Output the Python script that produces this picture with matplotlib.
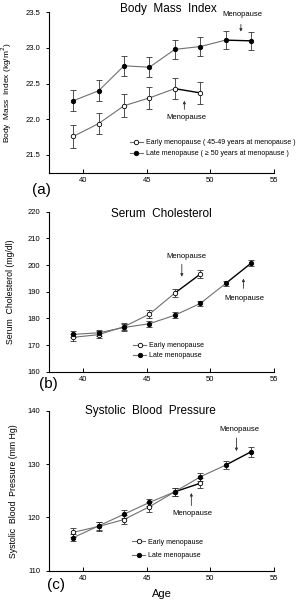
import numpy as np
import matplotlib
matplotlib.use("Agg")
import matplotlib.pyplot as plt

plt.rcParams['font.family'] = ['Liberation Sans', 'DejaVu Sans']

ages_early = [39.2, 41.2, 43.2, 45.2, 47.2, 49.2]
ages_late = [39.2, 41.2, 43.2, 45.2, 47.2, 49.2, 51.2, 53.2]

# body mass index
bmi_early = [21.76, 21.94, 22.19, 22.30, 22.43, 22.37]
bmi_early_err = [0.16, 0.15, 0.16, 0.15, 0.15, 0.15]
bmi_late = [22.26, 22.40, 22.75, 22.73, 22.98, 23.02, 23.11, 23.10]
bmi_late_err = [0.15, 0.15, 0.14, 0.14, 0.13, 0.13, 0.13, 0.13]

# serum cholesterol
chol_early = [172.9, 173.9, 176.9, 181.6, 189.5, 196.6]
chol_early_err = [1.2, 1.2, 1.3, 1.5, 1.5, 1.6]
chol_late = [174.0, 174.6, 176.6, 178.0, 181.2, 185.6, 193.1, 200.7]
chol_late_err = [1.1, 1.1, 1.2, 1.2, 1.1, 1.1, 1.1, 1.2]

# systolic blood pressure
sbp_early = [117.2, 118.3, 119.6, 122.0, 124.8, 126.4]
sbp_early_err = [0.9, 0.8, 0.8, 0.9, 0.8, 0.9]
sbp_late = [116.2, 118.4, 120.6, 122.8, 124.8, 127.6, 129.8, 132.3]
sbp_late_err = [0.7, 0.7, 0.7, 0.7, 0.7, 0.8, 0.8, 0.9]

GREY = "#707070"


def draw_series(ax, x, y, err, filled, label, split):
    # grey line before menopause, black line after
    ax.plot(x[:split + 1], y[:split + 1], color=GREY, lw=0.8, zorder=2)
    ax.plot(x[split:], y[split:], color="black", lw=1.0, zorder=2)
    ax.errorbar(x, y, yerr=err, fmt="none", ecolor="#333333", elinewidth=0.6,
                capsize=2.2, capthick=0.6, zorder=3)
    ax.plot(x, y, "o", ms=3.2, mfc="black" if filled else "white", mec="black",
            mew=0.6, zorder=4)
    # legend handle
    ax.plot([], [], "-o", color=GREY, lw=0.8, ms=3.2,
            mfc="black" if filled else "white", mec="black", mew=0.6, label=label)


def style(ax, ylim, yticks, yfmt):
    ax.set_xlim(37.3, 55)
    ax.set_ylim(*ylim)
    ax.set_xticks([40, 45, 50, 55])
    ax.set_yticks(yticks)
    ax.set_yticklabels([yfmt.format(v) for v in yticks])
    ax.spines['top'].set_visible(False)
    ax.spines['right'].set_visible(False)
    ax.spines['left'].set_linewidth(0.8)
    ax.spines['bottom'].set_linewidth(0.8)
    ax.tick_params(axis='x', direction='in', length=3, width=0.7, labelsize=5.5, pad=3)
    ax.tick_params(axis='y', direction='out', length=2.5, width=0.7, labelsize=5.5, pad=4)


def menopause(ax, xt, yt, xa, ya0, ya1):
    ax.text(xt, yt, "Menopause", fontsize=5.5, ha="center", va="center")
    ax.annotate("", xy=(xa, ya1), xytext=(xa, ya0),
                arrowprops=dict(arrowstyle="-|>", lw=0.6, color="#333333",
                                mutation_scale=4))


fig = plt.figure(figsize=(3.03, 6.0), dpi=100)
axa = fig.add_axes([0.162, 0.712, 0.742, 0.2675])
axb = fig.add_axes([0.162, 0.3805, 0.742, 0.2665])
axc = fig.add_axes([0.162, 0.0488, 0.742, 0.2667])

# (a) body mass index
draw_series(axa, ages_early, bmi_early, bmi_early_err, False,
            "Early menopause ( 45-49 years at menopause )", 4)
draw_series(axa, ages_late, bmi_late, bmi_late_err, True,
            "Late menopause ( \u2265 50 years at menopause )", 6)
style(axa, (21.25, 23.5), [21.5, 22.0, 22.5, 23.0, 23.5], "{:.1f}")
axa.set_ylabel("Body  Mass  Index (kg/m$^2$)", fontsize=6)
axa.yaxis.set_label_coords(-0.155, 0.5)
axa.text(0.53, 1.02, "Body  Mass  Index", transform=axa.transAxes, fontsize=8.5,
         ha="center", va="center")
menopause(axa, 52.5, 23.47, 52.4, 23.37, 23.19)
menopause(axa, 48.1, 22.02, 47.95, 22.10, 22.30)
axa.legend(loc="upper left", bbox_to_anchor=(0.36, 0.21), fontsize=5, frameon=False,
           handlelength=1.8, handletextpad=0.5, labelspacing=0.6, borderpad=0,
           borderaxespad=0)
axa.text(-0.075, -0.108, "(a)", transform=axa.transAxes, fontsize=11, va="center")

# (b) serum cholesterol
draw_series(axb, ages_early, chol_early, chol_early_err, False, "Early menopause", 4)
draw_series(axb, ages_late, chol_late, chol_late_err, True, "Late menopause", 6)
style(axb, (160, 220), [160, 170, 180, 190, 200, 210, 220], "{:d}")
axb.set_ylabel("Serum  Cholesterol (mg/dl)", fontsize=6.3)
axb.yaxis.set_label_coords(-0.151, 0.5)
axb.text(0.5, 0.986, "Serum  Cholesterol", transform=axb.transAxes, fontsize=8.5,
         ha="center", va="center")
menopause(axb, 48.1, 203.1, 47.75, 201.3, 194.6)
menopause(axb, 52.7, 187.5, 52.6, 190.2, 196.0)
axb.legend(loc="upper left", bbox_to_anchor=(0.375, 0.185), fontsize=5, frameon=False,
           handlelength=1.8, handletextpad=0.5, labelspacing=0.45, borderpad=0,
           borderaxespad=0)
axb.text(-0.045, -0.077, "(b)", transform=axb.transAxes, fontsize=11, va="center")

# (c) systolic blood pressure
draw_series(axc, ages_early, sbp_early, sbp_early_err, False, "Early menopause", 4)
draw_series(axc, ages_late, sbp_late, sbp_late_err, True, "Late menopause", 6)
style(axc, (110, 140), [110, 120, 130, 140], "{:d}")
axc.set_ylabel("Systolic  Blood  Pressure (mm Hg)", fontsize=6.3)
axc.yaxis.set_label_coords(-0.138, 0.5)
axc.text(0.45, 1.0, "Systolic  Blood  Pressure", transform=axc.transAxes, fontsize=8.5,
         ha="center", va="center")
axc.set_xlabel("Age", fontsize=8, labelpad=5)
menopause(axc, 52.3, 136.4, 52.05, 135.4, 131.9)
menopause(axc, 48.6, 120.75, 48.5, 121.7, 125.1)
axc.legend(loc="upper left", bbox_to_anchor=(0.37, 0.2), fontsize=5, frameon=False,
           handlelength=1.8, handletextpad=0.5, labelspacing=0.9, borderpad=0,
           borderaxespad=0)
axc.text(-0.01, -0.09, "(c)", transform=axc.transAxes, fontsize=11, va="center")

fig.savefig("out.png", dpi=100)
